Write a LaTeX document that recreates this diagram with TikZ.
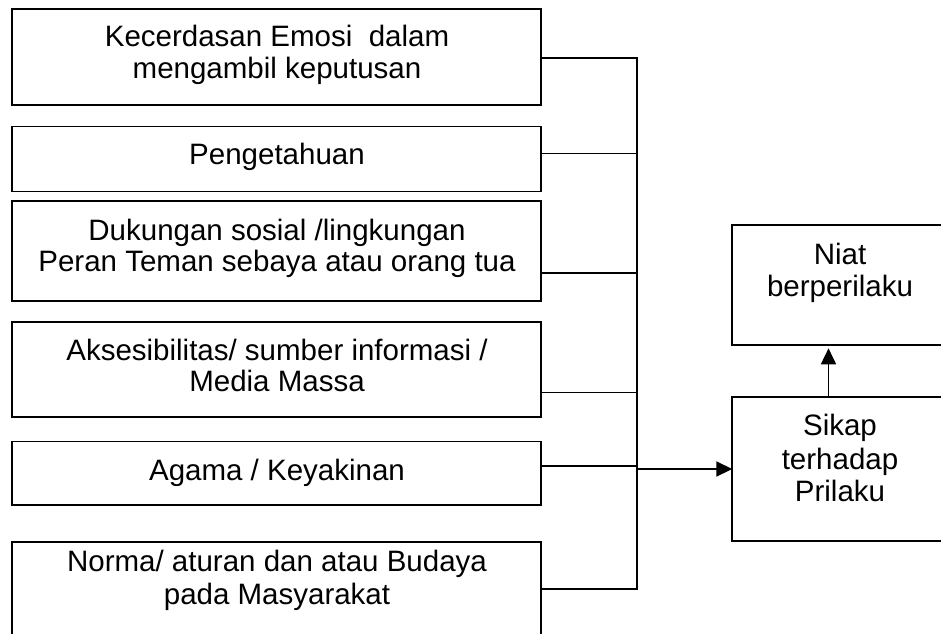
\documentclass[tikz,border=0pt]{standalone}
\usepackage{fontspec}
\setmainfont{Liberation Sans}
\usetikzlibrary{arrows.meta}
\begin{document}
\begin{tikzpicture}[x=1pt,y=-1pt,
  box/.style={draw, line width=1.7pt, inner sep=0pt, outer sep=0pt, anchor=north west},
  leftbox/.style={box, minimum width=528.7pt},
  rightbox/.style={box, minimum width=217pt},
  txt/.style={anchor=base, inner sep=0pt, font=\fontsize{29.5}{33}\selectfont},
  wire/.style={line width=1.7pt},
  arr/.style={wire, -{Triangle[length=16pt,width=15pt]}}]
\useasboundingbox (0,0) rectangle (941,633);
% left boxes
\node[leftbox, minimum height=96.2pt] (b1) at (12,8.8) {};
\node[leftbox, minimum height=65pt]   (b2) at (12,126.5) {};
\node[leftbox, minimum height=99.8pt] (b3) at (12,201) {};
\node[leftbox, minimum height=95.3pt] (b4) at (12,321.7) {};
\node[leftbox, minimum height=63.5pt] (b5) at (12,441.5) {};
\node[leftbox, minimum height=120pt]  (b6) at (12,541.7) {};
% right boxes
\node[rightbox, minimum height=120pt] (niat) at (732.3,225.3) {};
\node[rightbox, minimum height=144pt] (sikap) at (732.3,397.3) {};
% texts
\node[txt] (t1a) at (277,46.7) {Kecerdasan Emosi\ \ dalam};
\node[txt] (t1b) at (277,78.3) {mengambil keputusan};
\node[txt] (t2)  at (277,164) {Pengetahuan};
\node[txt] (t3a) at (277,240) {Dukungan sosial /lingkungan};
\node[txt] (t3b) at (277,271.7) {Peran Teman sebaya atau orang tua};
\node[txt] (t4a) at (277,360) {Aksesibilitas/ sumber informasi /};
\node[txt] (t4b) at (277,391.7) {Media Massa};
\node[txt] (t5)  at (277,480) {Agama / Keyakinan};
\node[txt] (t6a) at (277,571.7) {Norma/ aturan dan atau Budaya};
\node[txt] (t6b) at (277,604) {pada Masyarakat};
\node[txt] (tna) at (840,264) {Niat};
\node[txt] (tnb) at (840,296.7) {berperilaku};
\node[txt] (tsa) at (840,435.7) {Sikap};
\node[txt] (tsb) at (840,469) {terhadap};
\node[txt] (tsc) at (840,501.7) {Prilaku};
% bus junctions
\coordinate (j1) at (636.7,57.7);
\coordinate (j2) at (636.7,153.4);
\coordinate (j3) at (636.7,273.3);
\coordinate (j4) at (636.7,392.4);
\coordinate (j5) at (636.7,466.3);
\coordinate (j6) at (636.7,589.3);
\coordinate (jo) at (636.7,469);
\coordinate (ax) at (828.5,0);
% connectors
\draw[wire] (b1.east |- j1) -- (j1);
\draw[wire] (b2.east |- j2) -- (j2);
\draw[wire] (b3.east |- j3) -- (j3);
\draw[wire] (b4.east |- j4) -- (j4);
\draw[wire] (b5.east |- j5) -- (j5);
\draw[wire] (b6.east |- j6) -- (j6);
\draw[wire, line cap=rect] (j1) -- (j6);
\draw[arr] (jo) -- (sikap.west |- jo);
\draw[arr, shorten >=3pt] (sikap.north -| ax) -- (niat.south -| ax);
\end{tikzpicture}
\end{document}
